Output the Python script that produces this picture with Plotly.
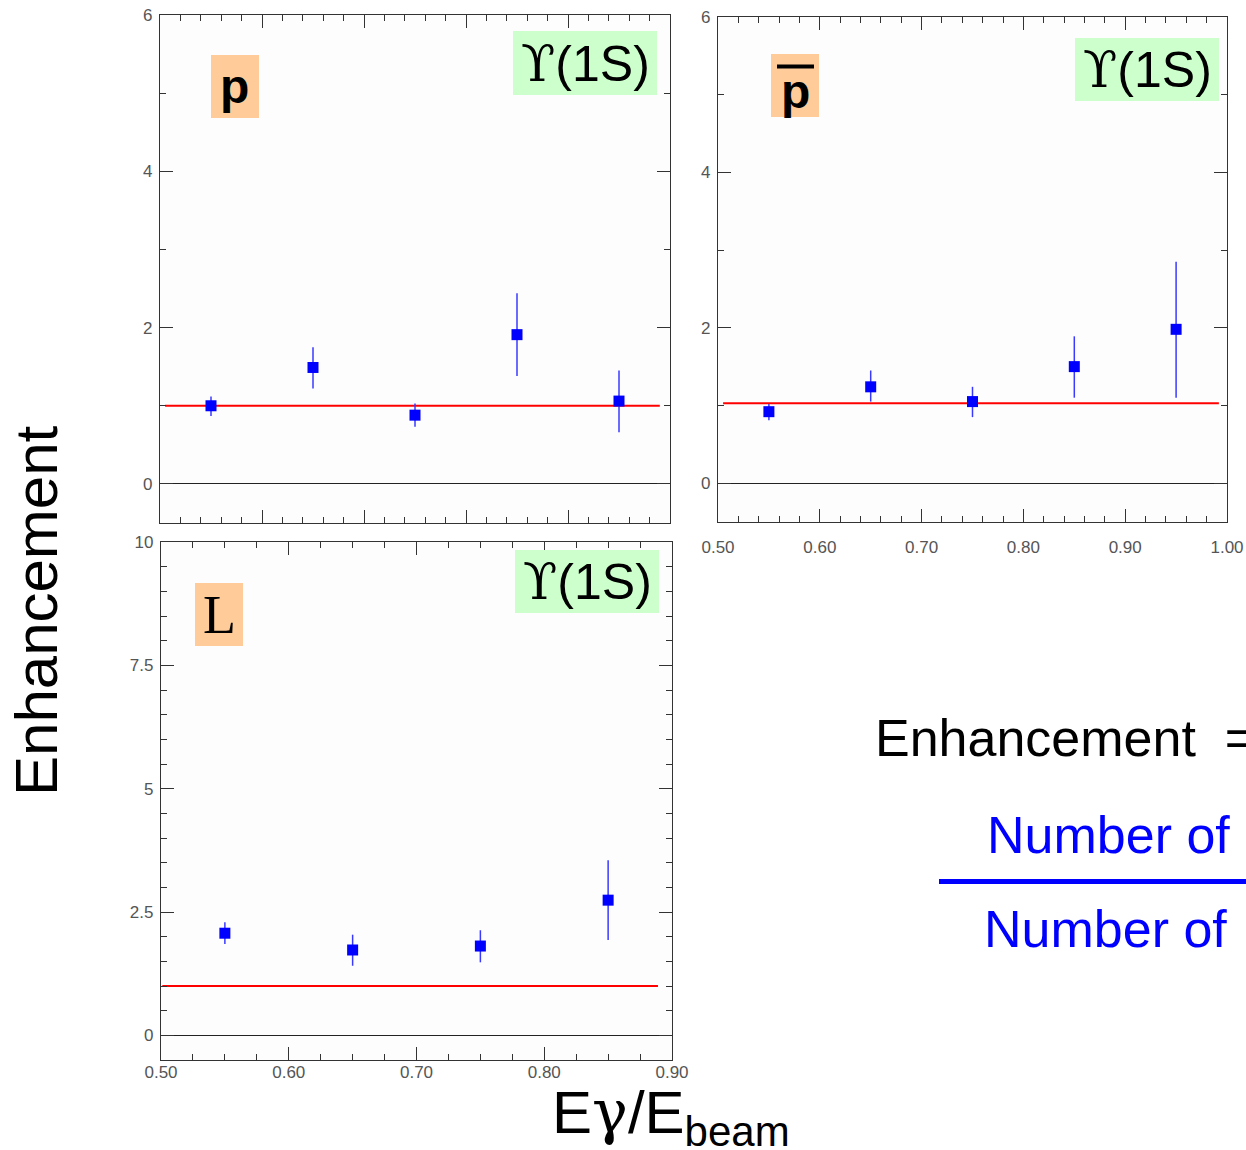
import plotly.graph_objects as go

W, H = 1246, 1150

# ---------------- data ----------------
x_p = [0.55, 0.65, 0.75, 0.85, 0.95]
y_p = [1.00, 1.49, 0.88, 1.91, 1.06]
up_p = [1.12, 1.75, 1.03, 2.44, 1.45]
lo_p = [0.87, 1.22, 0.73, 1.38, 0.66]

x_pbar = [0.55, 0.65, 0.75, 0.85, 0.95]
y_pbar = [0.92, 1.24, 1.05, 1.50, 1.98]
up_pbar = [1.02, 1.45, 1.24, 1.89, 2.85]
lo_pbar = [0.81, 1.05, 0.85, 1.10, 1.10]

x_lam = [0.55, 0.65, 0.75, 0.85]
y_lam = [2.07, 1.73, 1.81, 2.74]
up_lam = [2.29, 2.04, 2.13, 3.55]
lo_lam = [1.85, 1.41, 1.48, 1.93]

ref_x_p = [0.505, 0.99]
ref_y_p = [1.0, 1.0]
ref_x_pbar = [0.505, 0.992]
ref_y_pbar = [1.03, 1.03]
ref_x_lam = [0.501, 0.889]
ref_y_lam = [1.0, 1.0]

# ---------------- helpers ----------------
def px(x):
    return x / W

def py(y):
    return 1 - y / H

BLUE = "#0000ff"
ERR = "#3a3aff"
FONT = "Liberation Sans, Arial, sans-serif"
SERIF = "Liberation Serif, Times New Roman, serif"

fig = go.Figure()

def add_panel(xs, ys, ups, los, rx, ry, xa, ya):
    fig.add_trace(go.Scatter(
        x=rx, y=ry, mode="lines", line=dict(color="#ff0000", width=2),
        xaxis=xa, yaxis=ya, showlegend=False, hoverinfo="skip"))
    fig.add_trace(go.Scatter(
        x=xs, y=ys, mode="markers",
        marker=dict(symbol="square", size=11, color=BLUE, line=dict(width=0)),
        error_y=dict(type="data", symmetric=False,
                     array=[u - v for u, v in zip(ups, ys)],
                     arrayminus=[v - l for v, l in zip(ys, los)],
                     color=ERR, thickness=1.5, width=0),
        xaxis=xa, yaxis=ya, showlegend=False))

add_panel(x_p, y_p, up_p, lo_p, ref_x_p, ref_y_p, "x", "y")
add_panel(x_pbar, y_pbar, up_pbar, lo_pbar, ref_x_pbar, ref_y_pbar, "x2", "y2")
add_panel(x_lam, y_lam, up_lam, lo_lam, ref_x_lam, ref_y_lam, "x3", "y3")

tickfont = dict(family=FONT, size=17, color="#555555")
LINEC = "#333333"

def xaxis(dom, rng, minor_dt, anchor, show, standoff):
    return dict(domain=dom, range=rng, anchor=anchor, dtick=0.1, tick0=0.5,
                tickformat=".2f", showticklabels=show, tickfont=tickfont,
                ticks="inside", ticklen=13, tickcolor=LINEC, tickwidth=1.2,
                minor=dict(ticks="inside", ticklen=6, dtick=minor_dt, tick0=0.5,
                           tickcolor=LINEC, tickwidth=1.2),
                showline=True, linecolor=LINEC, linewidth=1.3, mirror="allticks",
                showgrid=False, zeroline=False, ticklabelstandoff=standoff,
                automargin=False, fixedrange=True)

def yaxis(dom, rng, dt, minor_dt, anchor):
    return dict(domain=dom, range=rng, anchor=anchor, dtick=dt, tick0=0,
                tickfont=tickfont,
                ticks="inside", ticklen=13, tickcolor=LINEC, tickwidth=1.2,
                minor=dict(ticks="inside", ticklen=6, dtick=minor_dt, tick0=0,
                           tickcolor=LINEC, tickwidth=1.2),
                showline=True, linecolor=LINEC, linewidth=1.3, mirror="allticks",
                showgrid=False, zeroline=True, zerolinecolor="#222222",
                zerolinewidth=1.2, ticklabelstandoff=3, automargin=False,
                fixedrange=True)

layout = dict(
    width=W, height=H,
    margin=dict(l=0, r=0, t=0, b=0, pad=0, autoexpand=False),
    paper_bgcolor="white", plot_bgcolor="#fdfdfd",
    font=dict(family=FONT),
    xaxis=xaxis([px(160), px(670)], [0.5, 1.0], 0.02, "y", False, 4),
    yaxis=yaxis([py(523), py(15)], [-0.5, 6], 2, 1, "x"),
    xaxis2=xaxis([px(718), px(1227)], [0.5, 1.0], 0.02, "y2", True, 9),
    yaxis2=yaxis([py(522), py(17)], [-0.5, 6], 2, 1, "x2"),
    xaxis3=xaxis([px(161), px(672)], [0.5, 0.9], 0.025, "y3", True, -4),
    yaxis3=yaxis([py(1060), py(542)], [-0.5, 10], 2.5, 0.5, "x3"),
)
fig.update_layout(**layout)

ORANGE = "#ffcc99"
GREEN = "#ccffcc"
ups_txt = '<span style="font-family:DejaVu Serif">ϒ</span>(1S)'

def rect(x0, y0, x1, y1, color):
    fig.add_shape(type="rect", xref="paper", yref="paper", layer="above",
                  x0=px(x0), x1=px(x1), y0=py(y1), y1=py(y0),
                  fillcolor=color, line=dict(width=0))

def label(cx, cy, text, size, fam, color="black"):
    fig.add_annotation(x=px(cx), y=py(cy), xref="paper", yref="paper",
                       xanchor="center", yanchor="middle", text=text,
                       showarrow=False, borderpad=0, borderwidth=0,
                       font=dict(family=fam, size=size, color=color))

# label boxes
rect(211, 55, 259, 118, ORANGE)
rect(513, 31, 657, 95, GREEN)
rect(771, 54, 819, 117, ORANGE)
rect(1075, 38, 1219, 101, GREEN)
rect(195, 583, 243, 646, ORANGE)
rect(515, 550, 659, 613, GREEN)

# overline of anti-proton
fig.add_shape(type="line", xref="paper", yref="paper", layer="above",
              x0=px(777), x1=px(814), y0=py(66.5), y1=py(66.5),
              line=dict(color="black", width=4))

label(234, 86, "<b>p</b>", 48, FONT)
label(585, 64, ups_txt, 50, FONT)
label(795, 92, "<b>p</b>", 48, FONT)
label(1147, 70, ups_txt, 50, FONT)
label(219, 615, "L", 54, SERIF)
label(587, 582, ups_txt, 50, FONT)

# axis titles
fig.add_annotation(x=px(36), y=py(611), xref="paper", yref="paper",
                   text="Enhancement", textangle=-90, showarrow=False,
                   xanchor="center", yanchor="middle",
                   font=dict(family=FONT, size=60, color="black"))
fig.add_annotation(x=px(671), y=py(1116), xref="paper", yref="paper",
                   text='E<span style="font-family:DejaVu Serif">γ</span>/E<sub>beam</sub>',
                   showarrow=False, xanchor="center", yanchor="middle",
                   font=dict(family=FONT, size=60, color="black"))

# definition text on the right
fig.add_annotation(x=px(873), y=py(738), xref="paper", yref="paper",
                   text="Enhancement  =", showarrow=False,
                   xanchor="left", yanchor="middle",
                   font=dict(family=FONT, size=52, color="black"))
fig.add_annotation(x=px(985), y=py(835), xref="paper", yref="paper",
                   text="Number of", showarrow=False,
                   xanchor="left", yanchor="middle",
                   font=dict(family=FONT, size=52, color=BLUE))
fig.add_annotation(x=px(982), y=py(929), xref="paper", yref="paper",
                   text="Number of", showarrow=False,
                   xanchor="left", yanchor="middle",
                   font=dict(family=FONT, size=52, color=BLUE))
fig.add_shape(type="line", xref="paper", yref="paper", layer="above",
              x0=px(939), x1=px(1250), y0=py(881.5), y1=py(881.5),
              line=dict(color=BLUE, width=5))

fig.write_html("out.html")
